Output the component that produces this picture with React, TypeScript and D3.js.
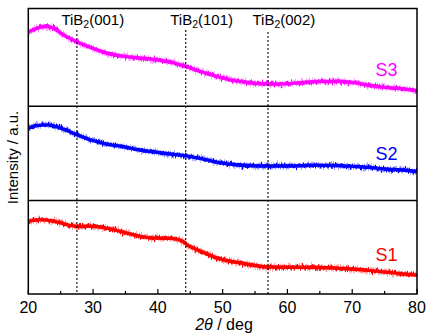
import React from "react";
import * as d3 from "d3";

// 2θ positions (deg) and relative intensities (% of panel height)
const s1Angles = [20, 22.1, 23.9, 25.5, 27.5, 29.6, 31.7, 34.2, 36.8, 39.4, 41.9, 43.4, 44.9, 47, 49.3, 51.9, 54.4, 57, 59.6, 62.2, 64.7, 67.3, 69.9, 72.5, 75, 77.6, 80];
const s1Values = [77.8, 79.5, 77.8, 74.9, 72.4, 72.4, 71.0, 67.1, 62.5, 59.9, 59.5, 57.8, 51.0, 44.6, 38.0, 34.2, 31.3, 28.9, 28.6, 28.6, 28.4, 27.8, 26.7, 25.3, 23.5, 21.7, 20.0];

const s2Angles = [20, 21.5, 23.1, 24.9, 27.5, 29.6, 32.1, 34.7, 37.2, 39.8, 41.9, 44.2, 46.5, 49.1, 51.9, 54.4, 57, 59.6, 62.2, 64.7, 67.3, 69.9, 72.5, 75, 77.6, 80];
const s2Values = [77.0, 79.6, 80.3, 77.0, 69.9, 64.5, 59.8, 57.1, 53.6, 51.2, 49.4, 47.6, 44.8, 40.7, 38.0, 36.9, 36.6, 36.6, 36.9, 37.5, 37.2, 36.3, 35.2, 33.4, 32.4, 31.0];

const s3Angles = [20, 20.8, 21.5, 22.6, 23.3, 24.2, 25.5, 27.5, 29.6, 32.1, 34.7, 37.2, 39.8, 41.9, 44.2, 46.5, 49.1, 51.9, 54.4, 57, 59.6, 62.2, 64.7, 67.3, 69.9, 72.5, 75, 77.6, 80];
const s3Values = [76.0, 78.3, 80.1, 81.8, 81.1, 78.5, 72.8, 66.0, 60.3, 54.5, 51.1, 49.4, 47.6, 45.3, 40.9, 35.8, 30.7, 26.2, 23.8, 22.8, 22.9, 24.3, 25.4, 25.6, 24.5, 21.5, 19.4, 18.0, 16.0];

const seriesNames = ["S3", "S2", "S1"];
const seriesColors = ["#ff00ff", "#0000ff", "#ff0000"];
const seriesAngles = [s3Angles, s2Angles, s1Angles];
const seriesValues = [s3Values, s2Values, s1Values];

const peakLabels = ["(001)", "(101)", "(002)"];
const peakAngles = [27.5, 44.3, 57.0];

const majorTicks = [20, 30, 40, 50, 60, 70, 80];
const minorTicks = [25, 35, 45, 55, 65, 75];

const W = 431;
const H = 334;
const left = 28.3;
const right = 417;
const panelEdges = [8.5, 106.3, 200.5, 294];
const labelBaselines = [75.7, 160, 260.7];
const FONT = "'Liberation Sans', Arial, Helvetica, sans-serif";

export default function App() {
  const x = d3.scaleLinear().domain([20, 80]).range([left, right]);

  return (
    <svg
      width={W}
      height={H}
      style={{ position: "fixed", left: 0, top: 0, background: "#fff" }}
      fontFamily={FONT}
    >
      <defs>
        <filter id="noiseA" x="-5%" y="-50%" width="110%" height="200%">
          <feTurbulence type="fractalNoise" baseFrequency="0.9 0.02" numOctaves="2" seed="3" result="t" />
          <feDisplacementMap in="SourceGraphic" in2="t" scale="9" xChannelSelector="B" yChannelSelector="G" />
        </filter>
        <filter id="noiseB" x="-5%" y="-50%" width="110%" height="200%">
          <feTurbulence type="fractalNoise" baseFrequency="1.3 0.02" numOctaves="2" seed="11" result="t" />
          <feDisplacementMap in="SourceGraphic" in2="t" scale="8" xChannelSelector="B" yChannelSelector="R" />
        </filter>
        <clipPath id="plotclip">
          <rect x={left} y={panelEdges[0]} width={right - left} height={panelEdges[3] - panelEdges[0]} />
        </clipPath>
      </defs>
      <rect width={W} height={H} fill="#fff" />

      {seriesNames.map((name, i) => {
        const y = d3.scaleLinear().domain([0, 100]).range([panelEdges[i + 1], panelEdges[i]]);
        const pts: [number, number][] = seriesAngles[i].map((a, k) => [a, seriesValues[i][k]]);
        const line = d3
          .line<[number, number]>()
          .x((d) => x(d[0]))
          .y((d) => y(d[1]))
          .curve(d3.curveMonotoneX);
        const dPath = line(pts) || "";
        return (
          <g key={name} clipPath="url(#plotclip)">
            <path d={dPath} fill="none" stroke={seriesColors[i]} strokeOpacity={0.35} strokeWidth={5} filter="url(#noiseB)" />
            <path d={dPath} fill="none" stroke={seriesColors[i]} strokeWidth={3.4} />
            <path d={dPath} fill="none" stroke={seriesColors[i]} strokeWidth={2.4} filter="url(#noiseA)" />
          </g>
        );
      })}

      {/* peak markers */}
      {peakAngles.map((a, i) => (
        <g key={a}>
          <line
            x1={x(a)}
            x2={x(a)}
            y1={i === 2 ? 32 : 30}
            y2={panelEdges[3]}
            stroke="#000"
            strokeWidth={1.1}
            strokeDasharray="2,2"
          />
          <text x={x(a) - 15.5} y={24.7} fontSize={15} fill="#000">
            TiB
            <tspan fontSize={10.5} dy={3.6}>2</tspan>
            <tspan dy={-3.6}>{peakLabels[i]}</tspan>
          </text>
        </g>
      ))}

      {/* panel frames */}
      <rect
        x={left}
        y={panelEdges[0]}
        width={right - left}
        height={panelEdges[3] - panelEdges[0]}
        fill="none"
        stroke="#000"
        strokeWidth={1.5}
      />
      {[panelEdges[1], panelEdges[2]].map((py) => (
        <line key={py} x1={left} x2={right} y1={py} y2={py} stroke="#000" strokeWidth={1.5} />
      ))}

      {/* ticks */}
      {majorTicks.map((t) => (
        <g key={t}>
          <line x1={x(t)} x2={x(t)} y1={panelEdges[3]} y2={panelEdges[3] - 5} stroke="#000" strokeWidth={1.2} />
          <text x={x(t)} y={313.3} fontSize={16} textAnchor="middle" fill="#000">
            {t}
          </text>
        </g>
      ))}
      {minorTicks.map((t) => (
        <line key={t} x1={x(t)} x2={x(t)} y1={panelEdges[3]} y2={panelEdges[3] - 3} stroke="#000" strokeWidth={1.2} />
      ))}

      {/* series labels */}
      {seriesNames.map((name, i) => (
        <text key={name} x={375.5} y={labelBaselines[i]} fontSize={18} fill={seriesColors[i]}>
          {name}
        </text>
      ))}

      {/* axis titles */}
      <text x={224} y={330} fontSize={16} textAnchor="middle" fill="#000">
        <tspan fontStyle="italic">2θ</tspan> / deg
      </text>
      <text
        transform="translate(18,157.5) rotate(-90)"
        fontSize={15}
        textAnchor="middle"
        fill="#000"
      >
        Intensity / a.u.
      </text>
    </svg>
  );
}
